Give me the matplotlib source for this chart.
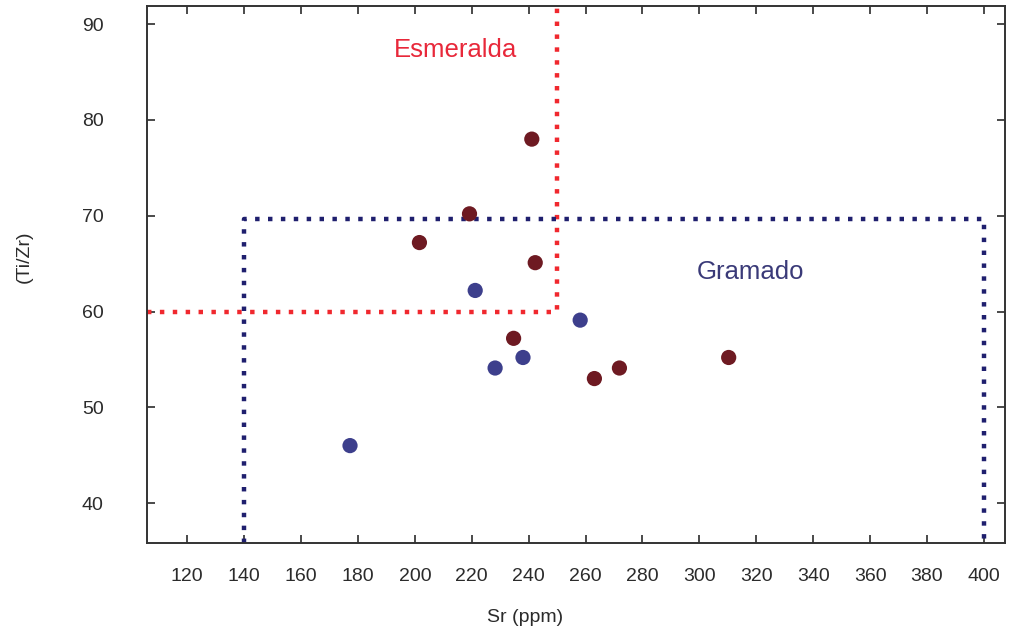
import matplotlib.pyplot as plt

plt.rcParams['font.family'] = ['Liberation Sans', 'DejaVu Sans']

# Muestras Gramado (azul) y Esmeralda (rojo oscuro)
sr_gramado = [221.2, 258.1, 238.0, 228.2, 177.2]
tizr_gramado = [62.2, 59.1, 55.2, 54.1, 46.0]

sr_esmeralda = [241.1, 219.2, 201.6, 242.3, 234.7, 263.1, 271.9, 310.3]
tizr_esmeralda = [78.0, 70.2, 67.2, 65.1, 57.2, 53.0, 54.1, 55.2]

# Limites de los campos
esm_sr_max, esm_tizr_min = 250, 60
gra_sr = [140, 400]
gra_tizr_max = 69.7

xlim = (105.7, 407.4)
ylim = (35.8, 91.9)

fig = plt.figure(figsize=(10.11, 6.31), dpi=100)
ax = fig.add_axes([0.145, 0.139, 0.849, 0.8515])

dots = (0, (1, 1.9))
red = '#f0282e'
navy = '#1f1f6e'
gris = '#2b2b2b'

# Campo Esmeralda
ax.plot([xlim[0], esm_sr_max, esm_sr_max], [esm_tizr_min, esm_tizr_min, ylim[1]],
        color=red, lw=3.2, linestyle=dots, dash_capstyle='butt', zorder=2)
# Campo Gramado
ax.plot([gra_sr[0], gra_sr[0], gra_sr[1], gra_sr[1]],
        [ylim[0], gra_tizr_max, gra_tizr_max, ylim[0]],
        color=navy, lw=3.2, linestyle=dots, dash_capstyle='butt', zorder=2)

ax.scatter(sr_esmeralda, tizr_esmeralda, s=120, color='#6e1a22', edgecolors='none', zorder=3)
ax.scatter(sr_gramado, tizr_gramado, s=120, color='#3d3f8c', edgecolors='none', zorder=3)

ax.text(214.2, 87.3, 'Esmeralda', color='#e8283a', fontsize=18.5, ha='center', va='center')
ax.text(317.9, 64.1, 'Gramado', color='#3a3a78', fontsize=18.5, ha='center', va='center')

ax.set_xlim(*xlim)
ax.set_ylim(*ylim)
ax.set_xticks(range(120, 401, 20))
ax.set_yticks(range(40, 91, 10))
ax.tick_params(direction='in', length=6, width=1.2, top=True, right=True,
               labelsize=14, colors=gris)
ax.tick_params(axis='x', pad=18)
ax.tick_params(axis='y', pad=31)
for s in ax.spines.values():
    s.set_linewidth(1.4)
    s.set_color('#333333')

# Titulos de los ejes
fig.text(525 / 1011, 1 - 617 / 631, 'Sr (ppm)', fontsize=14, color=gris,
         ha='center', va='center')
fig.text(24 / 1011, 1 - 257 / 631, '(Ti/Zr)', fontsize=14, color=gris,
         ha='center', va='center', rotation=90)

plt.savefig('out.png', dpi=100)
